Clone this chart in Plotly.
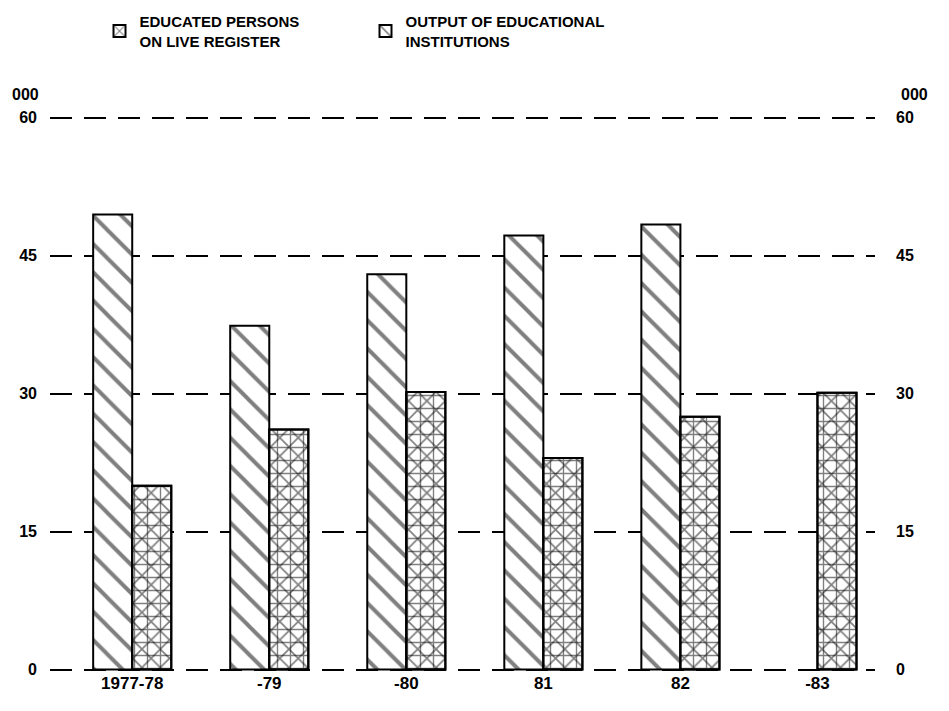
import plotly.graph_objects as go

years = ["1977-78", "-79", "-80", "81", "82", "-83"]
output_edu = [49.5, 37.4, 43.0, 47.2, 48.4, None]
educated_reg = [20.0, 26.1, 30.2, 23.0, 27.5, 30.1]
y_ticks = [0, 15, 30, 45, 60]
y_tick_text = ["0", "15", "30", "45", "60"]

FONT = "Liberation Sans"

fig = go.Figure()
fig.add_trace(go.Bar(
    x=years, y=output_edu, name="OUTPUT OF EDUCATIONAL<br>INSTITUTIONS",
    legendrank=2, offsetgroup="out",
    marker=dict(color="white", line=dict(color="black", width=2),
                pattern=dict(shape="\\", fgcolor="black", bgcolor="white",
                             size=20, solidity=0.2)),
))
fig.add_trace(go.Bar(
    x=years, y=educated_reg, name="EDUCATED PERSONS<br>ON LIVE REGISTER",
    legendrank=1, offsetgroup="edu",
    marker=dict(color="white", line=dict(color="black", width=2),
                pattern=dict(shape="x", fgcolor="black", bgcolor="white",
                             size=13, solidity=0.24)),
))
fig.add_trace(go.Bar(
    x=years, y=educated_reg, name="grid", showlegend=False, hoverinfo="skip",
    offsetgroup="edu",
    marker=dict(color="rgba(0,0,0,0)", line=dict(color="black", width=2),
                pattern=dict(shape="+", fgcolor="black", bgcolor="rgba(0,0,0,0)",
                             size=13, solidity=0.2)),
))
# invisible trace to activate right axis
fig.add_trace(go.Scatter(x=years, y=educated_reg, yaxis="y2", mode="markers",
                         marker=dict(opacity=0), showlegend=False, hoverinfo="skip"))

axis_font = dict(family=FONT, size=16, color="black", weight="bold")
fig.update_layout(
    width=941, height=703,
    margin=dict(l=42, r=74, t=108, b=40, autoexpand=False),
    paper_bgcolor="white", plot_bgcolor="white",
    barmode="group", bargap=0.43, bargroupgap=0,
    font=dict(family=FONT, color="black"),
    xaxis=dict(range=[-0.6, 5.42], showgrid=False, showline=False, ticks="",
               tickfont=dict(family=FONT, size=17, color="black", weight="bold")),
    yaxis=dict(range=[-0.15, 60.2], tickvals=y_ticks, ticktext=y_tick_text,
               showgrid=True, gridcolor="black", gridwidth=1.5,
               griddash="22px,12px", zeroline=False, showline=False,
               ticks="", ticklabelstandoff=12, tickfont=axis_font),
    yaxis2=dict(range=[-0.15, 60.2], tickvals=y_ticks, ticktext=y_tick_text,
                overlaying="y", side="right", showgrid=False, zeroline=False,
                showline=False, ticks="", ticklabelstandoff=20, tickfont=axis_font),
    legend=dict(orientation="h", x=0.06, y=1.2, xanchor="left", yanchor="top",
                entrywidth=221, entrywidthmode="pixels", traceorder="normal",
                font=dict(family=FONT, size=15, color="black", weight="bold"),
                bgcolor="rgba(0,0,0,0)"),
    showlegend=True,
    annotations=[
        dict(text="000", xref="paper", yref="paper", x=-0.03, y=1.02,
             xanchor="center", yanchor="bottom", showarrow=False,
             font=dict(family=FONT, size=16, color="black", weight="bold")),
        dict(text="000", xref="paper", yref="paper", x=1.048, y=1.02,
             xanchor="center", yanchor="bottom", showarrow=False,
             font=dict(family=FONT, size=16, color="black", weight="bold")),
    ],
)

fig.write_html("out.html")
